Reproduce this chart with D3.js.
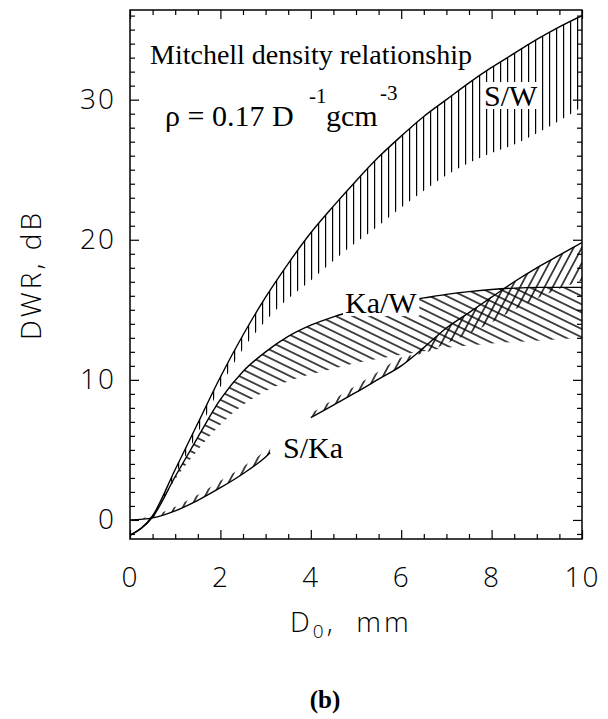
<!DOCTYPE html>
<html>
<head>
<meta charset="utf-8">
<title>DWR vs D0 - Mitchell density relationship</title>
<script src="https://cdn.jsdelivr.net/npm/d3@7"></script>
<style>
	html, body { margin: 0; padding: 0; background: white; }
	svg { display: block; }
	.tick text { font-family: 'Open Sans', sans-serif; font-weight: 300; font-size: 28px; fill: #000; letter-spacing: 2px; }
	.tick line { stroke: #000; stroke-width: 1.2; }
	.serif { font-family: 'Liberation Serif', 'Times New Roman', serif; fill: #000; }
	.lab { font-family: 'Open Sans', sans-serif; font-weight: 300; font-size: 28px; letter-spacing: 3px; white-space: pre; }
</style>
</head>
<body>
<svg id="chart" width="608" height="719"></svg>
<script>

// D0 grid (mm) and DWR values (dB)
var dGrid = [0, 0.5, 1, 1.5, 2, 2.5, 3, 3.5, 4, 4.5, 5, 5.5, 6, 6.5, 7, 7.5, 8, 8.5, 9, 9.5, 10];

var swUpper = [-1.1, 0.3, 3.6, 6.9, 10.2, 13.2, 15.9, 18.3, 20.5, 22.4, 24.2, 25.9, 27.4, 28.8, 30.0, 31.2, 32.3, 33.3, 34.3, 35.2, 36.0];
var swLower = [-1.1, 0.2, 3.2, 6.2, 9.5, 12.2, 14.2, 15.8, 17.1, 18.5, 19.8, 21.0, 22.3, 23.5, 24.6, 25.5, 26.2, 26.8, 27.6, 28.5, 29.5];

var kawUpper = [-1.1, 0.2, 3.1, 5.9, 8.6, 10.6, 12.0, 13.1, 13.9, 14.5, 14.95, 15.3, 15.6, 15.85, 16.1, 16.3, 16.45, 16.55, 16.6, 16.6, 16.6];
var kawLower = [-1.1, 0.2, 2.9, 5.0, 6.8, 8.2, 9.2, 9.9, 10.4, 10.8, 11.2, 11.5, 11.8, 12.05, 12.3, 12.45, 12.6, 12.7, 12.8, 12.9, 13.0];

var skaD1 = [0, 0.5, 1, 1.5, 2, 2.5, 3, 3.1];
var skaLine1 = [0, 0.15, 0.65, 1.4, 2.3, 3.3, 4.5, 4.8];
var skaEdge1 = [0, 0.3, 0.95, 1.8, 2.8, 3.8, 5.0, 5.3];

var skaD2 = [4, 4.5, 5, 5.5, 6, 6.5, 7, 7.5, 8, 8.5, 9, 9.5, 10];
var skaLine2 = [7.3, 8.2, 9.1, 10.05, 11.0, 12.3, 13.7, 14.8, 15.9, 17.0, 18.0, 18.9, 19.8];
var skaEdge2 = [7.6, 8.6, 9.6, 10.6, 11.6, 11.9, 12.6, 13.3, 14.1, 15.0, 15.8, 16.5, 17.1];

var xMajor = [0, 2, 4, 6, 8, 10];
var yMajor = [0, 10, 20, 30];

var margin = {left: 130, right: 26, top: 10, bottom: 180};
var W = 608, H = 719;
var x0 = margin.left, x1 = W - margin.right, y0 = H - margin.bottom, y1 = margin.top;

var x = d3.scaleLinear().domain([0, 10]).range([x0, x1]);
var y = d3.scaleLinear().domain([-1.36, 36.4]).range([y0, y1]);

var svg = d3.select("#chart");
var defs = svg.append("defs");

defs.append("clipPath").attr("id", "plotClip")
	.append("rect").attr("x", x0).attr("y", y1).attr("width", x1 - x0).attr("height", y0 - y1);

// hatch patterns
function hatch(id, spacing, angle) {
	var p = defs.append("pattern")
		.attr("id", id)
		.attr("patternUnits", "userSpaceOnUse")
		.attr("width", 20)
		.attr("height", spacing)
		.attr("patternTransform", "rotate(" + angle + ")");
	p.append("line").attr("x1", 0).attr("x2", 20).attr("y1", spacing / 2).attr("y2", spacing / 2)
		.attr("stroke", "#000").attr("stroke-width", 1.4);
}
// vertical lines, no rotation so they stay crisp
var pv = defs.append("pattern")
	.attr("id", "hatchSW")
	.attr("patternUnits", "userSpaceOnUse")
	.attr("width", 7).attr("height", 20);
pv.append("rect").attr("x", 3).attr("y", 0).attr("width", 1.2).attr("height", 20).attr("fill", "#000");

hatch("hatchKaW", 7.4, 26);
hatch("hatchSKa", 7.2, -62);

var plot = svg.append("g").attr("clip-path", "url(#plotClip)");

function band(xs, a, b, pat) {
	var pts = xs.map(function(d, i) { return [d, a[i], b[i]]; });
	var area = d3.area()
		.curve(d3.curveMonotoneX)
		.x(function(d) { return x(d[0]); })
		.y0(function(d) { return y(d[1]); })
		.y1(function(d) { return y(d[2]); });
	plot.append("path").datum(pts).attr("d", area).attr("fill", "url(#" + pat + ")");
}

function curve(xs, v, w) {
	var line = d3.line()
		.curve(d3.curveMonotoneX)
		.x(function(d, i) { return x(xs[i]); })
		.y(function(d) { return y(d); });
	plot.append("path").datum(v).attr("d", line)
		.attr("fill", "none").attr("stroke", "#000").attr("stroke-width", w || 1.4);
}

band(dGrid, swUpper, swLower, "hatchSW");
band(dGrid, kawUpper, kawLower, "hatchKaW");
band(skaD1, skaLine1, skaEdge1, "hatchSKa");
band(skaD2, skaLine2, skaEdge2, "hatchSKa");

curve(dGrid, swUpper);
curve(dGrid, kawUpper);
curve(skaD1, skaLine1);
curve(skaD2, skaLine2);

// curve labels with white boxes
function label(txt, lx, ly, boxed) {
	var t = svg.append("text").attr("class", "serif")
		.attr("x", lx).attr("y", ly)
		.attr("font-size", 30)
		.text(txt);
	if (boxed) {
		var bb = t.node().getBBox();
		svg.insert("rect", function() { return t.node(); })
			.attr("x", bb.x - 2).attr("y", bb.y + 3)
			.attr("width", bb.width + 4).attr("height", bb.height - 6)
			.attr("fill", "white");
	}
}
label("S/W", 484, 106, true);
label("Ka/W", 345, 313, true);
label("S/Ka", 283, 458, false);

// title annotation
svg.append("text").attr("class", "serif")
	.attr("x", 150).attr("y", 64).attr("font-size", 28)
	.text("Mitchell density relationship");

var rho = svg.append("text").attr("class", "serif").attr("font-size", 30).attr("y", 126);
rho.append("tspan").attr("x", 165).text("\u03c1 = 0.17 D");
rho.append("tspan").attr("x", 309).attr("y", 103).attr("font-size", 21).text("-1");
rho.append("tspan").attr("x", 326).attr("y", 126).text("gcm");
rho.append("tspan").attr("x", 380).attr("y", 100).attr("font-size", 21).text("-3");

// axes: major and minor ticks on all four sides, pointing inward
var xMinor = d3.range(0, 10.01, 0.5).filter(function(v) { return xMajor.indexOf(v) < 0; });
var yMinor = d3.range(-1, 36.5, 1).filter(function(v) { return yMajor.indexOf(v) < 0; });

svg.append("g").attr("transform", "translate(0," + y0 + ")")
	.call(d3.axisBottom(x).tickValues(xMajor).tickSize(-9).tickPadding(28).tickFormat(d3.format("d")));
svg.append("g").attr("transform", "translate(0," + y0 + ")")
	.call(d3.axisBottom(x).tickValues(xMinor).tickSize(-5).tickFormat(""));
svg.append("g").attr("transform", "translate(0," + y1 + ")")
	.call(d3.axisTop(x).tickValues(xMajor).tickSize(-9).tickFormat(""));
svg.append("g").attr("transform", "translate(0," + y1 + ")")
	.call(d3.axisTop(x).tickValues(xMinor).tickSize(-5).tickFormat(""));

svg.append("g").attr("transform", "translate(" + x0 + ",0)")
	.call(d3.axisLeft(y).tickValues(yMajor).tickSize(-9).tickPadding(14).tickFormat(d3.format("d")));
svg.append("g").attr("transform", "translate(" + x0 + ",0)")
	.call(d3.axisLeft(y).tickValues(yMinor).tickSize(-5).tickFormat(""));
svg.append("g").attr("transform", "translate(" + x1 + ",0)")
	.call(d3.axisRight(y).tickValues(yMajor).tickSize(-9).tickFormat(""));
svg.append("g").attr("transform", "translate(" + x1 + ",0)")
	.call(d3.axisRight(y).tickValues(yMinor).tickSize(-5).tickFormat(""));

svg.selectAll(".domain").remove();

svg.append("rect")
	.attr("x", x0).attr("y", y1).attr("width", x1 - x0).attr("height", y0 - y1)
	.attr("fill", "none").attr("stroke", "#000").attr("stroke-width", 1.5);

// axis titles
svg.append("text").attr("class", "lab")
	.attr("transform", "translate(30,275) rotate(-90)")
	.attr("text-anchor", "middle").attr("dominant-baseline", "central")
	.text("DWR, dB");

var xl = svg.append("text").attr("class", "lab")
	.attr("x", 290).attr("y", 632);
xl.append("tspan").text("D");
xl.append("tspan").attr("dy", 6).attr("font-size", 19).text("0");
xl.append("tspan").attr("dy", -6).text(",  mm");

svg.append("text").attr("class", "serif")
	.attr("x", 325).attr("y", 708).attr("text-anchor", "middle")
	.attr("font-size", 25).attr("font-weight", "bold")
	.text("(b)");

</script>
</body>
</html>
